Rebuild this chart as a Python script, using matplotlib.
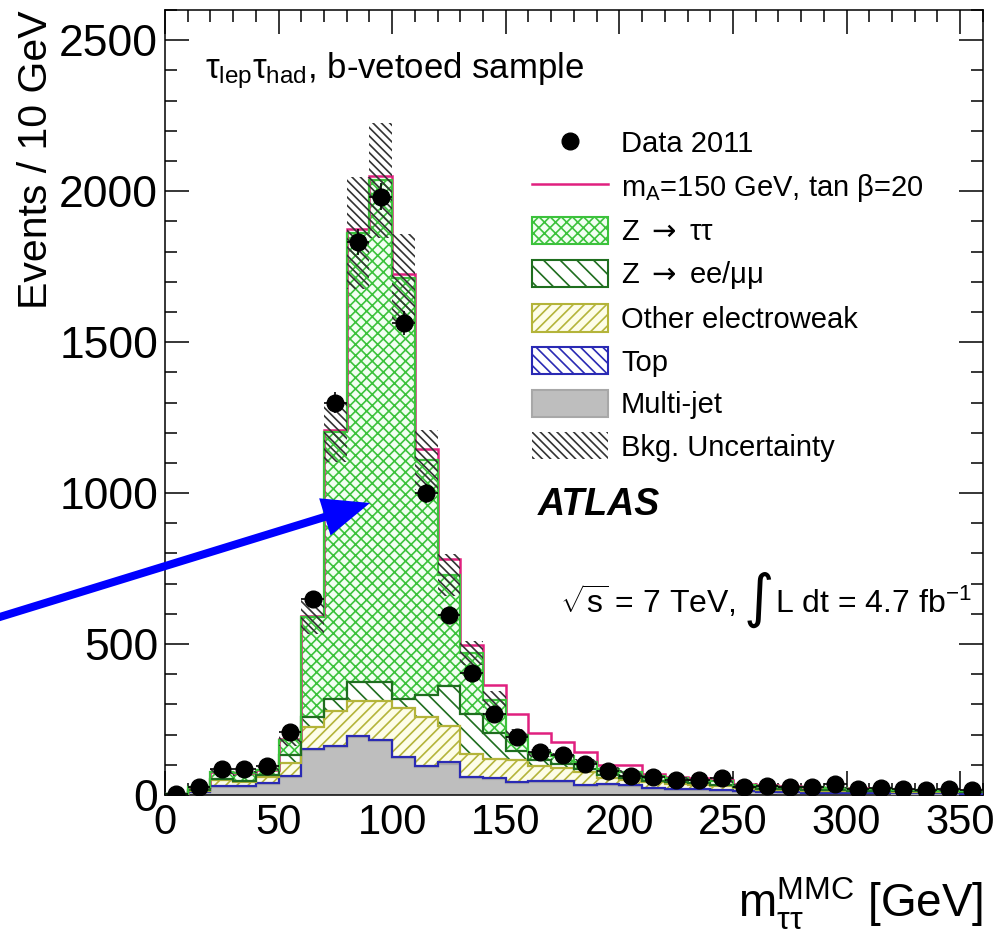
import numpy as np
import matplotlib
matplotlib.use('Agg')
import matplotlib.pyplot as plt
from matplotlib.patches import Patch, FancyArrowPatch, ArrowStyle
from matplotlib.lines import Line2D
from matplotlib.ticker import MultipleLocator

plt.rcParams['font.family'] = ['Liberation Sans', 'DejaVu Sans']
plt.rcParams['mathtext.fontset'] = 'custom'
plt.rcParams['mathtext.rm'] = 'Liberation Sans'
plt.rcParams['mathtext.it'] = 'Liberation Sans'
plt.rcParams['mathtext.bf'] = 'Liberation Sans:bold'
plt.rcParams['mathtext.sf'] = 'DejaVu Sans'
plt.rcParams['hatch.linewidth'] = 1.2

# 10 GeV bins, 0-360 GeV
edges = np.arange(0, 361, 10)

multijet = [2, 10, 28, 28, 38, 60, 148, 158, 192, 178, 122, 92, 104, 56, 52, 40, 44, 44,
            30, 32, 30, 20, 18, 18, 15, 10, 9, 8, 7, 7, 6, 6, 5, 5, 5, 4]
top = [0, 1, 2, 2, 2, 3, 5, 6, 4, 4, 4, 4, 5, 5, 4, 4, 4, 3,
       3, 3, 3, 3, 2, 2, 2, 2, 1, 1, 1, 1, 1, 1, 1, 1, 1, 1]
other_ew = [0, 4, 19, 13, 20, 42, 71, 115, 114, 128, 161, 162, 119, 74, 62, 71, 47, 41,
            42, 20, 17, 19, 18, 14, 13, 10, 8, 8, 7, 7, 6, 6, 5, 5, 5, 4]
z_ll = [0, 2, 5, 5, 5, 26, 33, 38, 65, 65, 32, 72, 134, 135, 89, 30, 20, 15,
        12, 10, 8, 6, 5, 5, 4, 3, 2, 2, 2, 2, 2, 1, 1, 1, 1, 1]
z_tautau = [1, 8, 23, 24, 18, 51, 333, 886, 1487, 1661, 1393, 780, 366, 200, 108, 55, 25, 25,
            21, 20, 17, 14, 12, 11, 11, 8, 10, 8, 8, 6, 6, 5, 5, 4, 3, 3]
signal = [0, 0, 0, 0, 0, 2, 4, 6, 12, 14, 13, 36, 53, 27, 49, 68, 65, 47,
          34, 14, 24, 8, 6, 5, 4, 3, 2, 2, 2, 1, 1, 1, 1, 1, 1, 1]
bkg_unc = [1, 3, 8, 8, 9, 18, 55, 100, 185, 190, 145, 100, 70, 40, 28, 18, 13, 12,
           10, 8, 7, 6, 5, 5, 4, 3, 3, 3, 3, 2, 2, 2, 2, 2, 2, 2]
data = [5, 28, 85, 85, 96, 210, 650, 1300, 1832, 1981, 1563, 1000, 596, 405, 268, 192, 142, 132,
        103, 80, 63, 60, 50, 50, 56, 26, 30, 26, 26, 36, 20, 23, 20, 16, 20, 18]

c_ztt, c_zll, c_ew, c_top, c_mj = '#3cc23c', '#1f6e1f', '#b4b43a', '#2a2ab4', '#a8a8a8'
c_sig = '#e0207f'

fig = plt.figure(figsize=(10.06, 9.36), dpi=100)
ax = fig.add_axes([0.164, 0.1506, 0.813, 0.8387])

layers = [
    (multijet, '#bebebe', c_mj, c_mj, None),
    (top, 'white', c_top, c_top, '\\\\\\'),
    (other_ew, '#fdfde8', c_ew, c_ew, '///'),
    (z_ll, 'white', c_zll, c_zll, '\\\\'),
    (z_tautau, '#f2fff2', c_ztt, c_ztt, 'xxx'),
]
bottom = np.zeros(len(data))
for vals, face, hcol, lcol, hatch in layers:
    vals = np.array(vals, dtype=float)
    ax.stairs(bottom + vals, edges, baseline=bottom, fill=True, facecolor=face,
              edgecolor=hcol, hatch=hatch, lw=0, zorder=2)
    bottom = bottom + vals
total = bottom.copy()

# outlines of the cumulative stack
ax.stairs(total + np.array(signal), edges, baseline=None, color=c_sig, lw=1.8, zorder=3)
cum = np.zeros(len(data))
for vals, face, hcol, lcol, hatch in layers:
    cum = cum + np.array(vals)
    ax.stairs(cum, edges, baseline=None, color=lcol, lw=1.6, zorder=4)

unc = np.array(bkg_unc)
ax.stairs(total + unc, edges, baseline=total - unc, fill=True, facecolor='none',
          edgecolor='#333333', hatch='\\\\\\\\', lw=0, zorder=5)

centers = 0.5 * (edges[1:] + edges[:-1])
ax.errorbar(centers, data, yerr=np.sqrt(data), xerr=5, fmt='o', color='k', ms=12,
            elinewidth=1.2, capsize=0, zorder=10)

ax.set_xlim(0, 360)
ax.set_ylim(0, 2600)
ax.xaxis.set_major_locator(MultipleLocator(50))
ax.xaxis.set_minor_locator(MultipleLocator(10))
ax.yaxis.set_major_locator(MultipleLocator(500))
ax.yaxis.set_minor_locator(MultipleLocator(100))
ax.tick_params(which='both', direction='in', top=True, right=True, width=1.1)
ax.tick_params(which='major', length=17)
ax.tick_params(which='minor', length=8.5)
ax.tick_params(axis='x', labelsize=30, pad=6)
ax.tick_params(axis='y', labelsize=32, pad=5)
for s in ax.spines.values():
    s.set_linewidth(1.1)

ax.set_ylabel('Events / 10 GeV', fontsize=29.5, loc='top')
ax.yaxis.set_label_coords(-0.134, 1.0)
ax.set_xlabel(r'm$_{\tau\tau}^{\rm MMC}$ [GeV]', fontsize=33, loc='right')
ax.xaxis.set_label_coords(1.0, -0.103)

handles = [
    Line2D([], [], marker='o', color='k', ls='none', ms=12),
    Line2D([], [], color=c_sig, lw=1.8),
    Patch(facecolor='#f2fff2', edgecolor=c_ztt, hatch='xxx', lw=1.5),
    Patch(facecolor='white', edgecolor=c_zll, hatch='\\\\', lw=1.5),
    Patch(facecolor='#fdfde8', edgecolor=c_ew, hatch='///', lw=1.5),
    Patch(facecolor='white', edgecolor=c_top, hatch='\\\\\\', lw=1.5),
    Patch(facecolor='#bebebe', edgecolor=c_mj, lw=1.5),
    Patch(facecolor='none', edgecolor='#333333', hatch='\\\\\\\\', lw=0),
]
labels = ['Data 2011', r'm$_{\rm A}$=150 GeV, tan $\beta$=20',
          r'Z $\mathsf{\rightarrow}$ ττ', r'Z $\mathsf{\rightarrow}$ ee/μμ',
          'Other electroweak', 'Top', 'Multi-jet', 'Bkg. Uncertainty']
fig.legend(handles, labels, loc='upper left', bbox_to_anchor=(532 / 1006, 1 - 129 / 936),
           fontsize=21, frameon=False, handlelength=2.6, handleheight=1.05,
           labelspacing=0.45, handletextpad=0.45, borderpad=0, borderaxespad=0)

fig.text(205 / 1006, 1 - 78 / 936, r'$\tau_{\rm lep}\tau_{\rm had}$, b-vetoed sample',
         fontsize=25, va='baseline')
fig.text(538 / 1006, 1 - 515 / 936, 'ATLAS', fontsize=27, weight='bold', style='italic',
         va='baseline')
fig.text(560 / 1006, 1 - 613 / 936, r'$\sqrt{s}$ = 7 TeV,', fontsize=23, va='baseline')
fig.text(744 / 1006, 1 - 600 / 936, '∫', fontsize=42, va='center', family='DejaVu Sans')
fig.text(775 / 1006, 1 - 613 / 936, r'L dt = 4.7 fb$^{-1}$', fontsize=23, va='baseline')

arrow = FancyArrowPatch(posA=(-10 / 1006, 1 - 620 / 936), posB=(370 / 1006, 1 - 503 / 936),
                        transform=fig.transFigure,
                        arrowstyle=ArrowStyle.Simple(head_length=1.7, head_width=1.4, tail_width=0.29),
                        mutation_scale=20, color='#0000ff', lw=0, shrinkA=0, shrinkB=0, zorder=20)
fig.add_artist(arrow)

fig.savefig('out.png', dpi=100)
